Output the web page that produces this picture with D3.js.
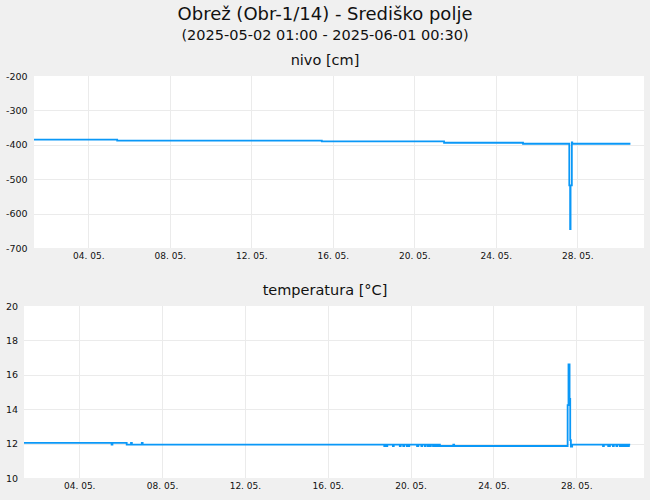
<!DOCTYPE html>
<html>
<head>
<meta charset="utf-8">
<script src="https://cdn.jsdelivr.net/npm/d3@7"></script>
<style>
    body { margin: 0; background: #f0f0f0; }
    svg { display: block; font-family: "DejaVu Sans", sans-serif; }
</style>
</head>
<body>
<svg id="chart" width="650" height="500"></svg>
<script>
const titleText = "Obrež (Obr-1/14) - Središko polje";
const subtitleText = "(2025-05-02 01:00 - 2025-06-01 00:30)";

// axis range of both panels (the data stops a bit before the right edge)
const timeDomain = ["2025-05-01T08:00", "2025-05-31T06:30"];
const xTickDates = ["2025-05-04", "2025-05-08", "2025-05-12", "2025-05-16", "2025-05-20", "2025-05-24", "2025-05-28"];

// nivo [cm]
const nivoLabel = "nivo [cm]";
const nivoTicks = [-200, -300, -400, -500, -600, -700];
const nivoTimes = [
    "2025-05-01T08:00", "2025-05-05T10:00", "2025-05-15T11:00", "2025-05-21T11:00",
    "2025-05-25T08:00", "2025-05-27T14:30", "2025-05-27T15:30", "2025-05-27T16:00",
    "2025-05-27T17:30", "2025-05-27T18:00", "2025-05-30T14:30"
];
const nivoValues = [-385, -388, -390, -394, -397, -518, -645, -518, -393, -397, -397];

// temperatura [°C]
const tempLabel = "temperatura [°C]";
const tempTicks = [10, 12, 14, 16, 18, 20];
const tempTimes = [
    "2025-05-01T08:00", "2025-05-05T13:30", "2025-05-05T14:30", "2025-05-06T07:00",
    "2025-05-06T12:00", "2025-05-06T13:00", "2025-05-07T00:30", "2025-05-07T01:30",
    "2025-05-18T17:30", "2025-05-18T18:30", "2025-05-18T20:00", "2025-05-18T21:00",
    "2025-05-19T03:30", "2025-05-19T04:30", "2025-05-19T11:30", "2025-05-19T12:30",
    "2025-05-19T15:30", "2025-05-19T16:30", "2025-05-19T19:30", "2025-05-19T20:30",
    "2025-05-19T21:30", "2025-05-19T22:30", "2025-05-20T07:30", "2025-05-20T09:00",
    "2025-05-20T12:30", "2025-05-20T13:30", "2025-05-20T16:30", "2025-05-20T17:30",
    "2025-05-20T20:00", "2025-05-20T21:00", "2025-05-20T22:30", "2025-05-20T23:30",
    "2025-05-21T02:00", "2025-05-21T03:30", "2025-05-21T05:00", "2025-05-21T06:00",
    "2025-05-21T07:30", "2025-05-21T08:30", "2025-05-21T10:00", "2025-05-22T01:30",
    "2025-05-22T02:30", "2025-05-27T14:00", "2025-05-27T15:00", "2025-05-27T16:15",
    "2025-05-27T17:00", "2025-05-27T17:45", "2025-05-27T19:15", "2025-05-29T07:00",
    "2025-05-29T08:00", "2025-05-29T13:00", "2025-05-29T15:00", "2025-05-29T18:30",
    "2025-05-29T19:30", "2025-05-29T22:30", "2025-05-29T23:30", "2025-05-30T02:30",
    "2025-05-30T03:30", "2025-05-30T05:00", "2025-05-30T06:30", "2025-05-30T08:30",
    "2025-05-30T10:00", "2025-05-30T12:00", "2025-05-30T13:00", "2025-05-30T14:30"
];
const tempValues = [
    12.04, 11.94, 12.04, 11.94, 12.04, 11.94, 12.04, 11.94,
    11.86, 11.94, 11.86, 11.94, 11.86, 11.94, 11.86, 11.94,
    11.86, 11.94, 11.86, 11.94, 11.86, 11.94, 11.86, 11.94,
    11.86, 11.94, 11.86, 11.94, 11.86, 11.94, 11.86, 11.94,
    11.86, 11.94, 11.86, 11.94, 11.86, 11.94, 11.86, 11.94,
    11.86, 14.24, 16.6, 14.6, 12.2, 11.82, 11.94, 11.86,
    11.94, 11.86, 11.94, 11.86, 11.94, 11.86, 11.94, 11.86,
    11.94, 11.86, 11.94, 11.86, 11.94, 11.86, 11.94, 11.94
];

const LINE_COLOR = "#0a98f7";
const GRID_COLOR = "#ebebeb";
const TEXT_COLOR = "#111";

const parseTime = d3.timeParse("%Y-%m-%dT%H:%M");
const parseDay = d3.timeParse("%Y-%m-%d");
const tickFormat = d3.timeFormat("%d. %m.");

const svg = d3.select("#chart");

svg.append("rect")
    .attr("width", 650)
    .attr("height", 500)
    .attr("fill", "#f0f0f0");

svg.append("text")
    .attr("x", 325)
    .attr("y", 20)
    .attr("text-anchor", "middle")
    .attr("font-size", 18)
    .attr("fill", TEXT_COLOR)
    .text(titleText);

svg.append("text")
    .attr("x", 325)
    .attr("y", 40)
    .attr("text-anchor", "middle")
    .attr("font-size", 14.5)
    .attr("fill", TEXT_COLOR)
    .text(subtitleText);

function drawPanel(panel) {
    const width = panel.right - panel.left;
    const height = panel.bottom - panel.top;

    const data = panel.times.map((t, i) => ({ date: parseTime(t), value: panel.values[i] }));

    const x = d3.scaleTime()
        .domain(timeDomain.map(parseTime))
        .range([0, width]);
    const y = d3.scaleLinear()
        .domain(d3.extent(panel.ticks))
        .range([height, 0]);

    svg.append("text")
        .attr("x", 325)
        .attr("y", panel.top - 11)
        .attr("text-anchor", "middle")
        .attr("font-size", 14.5)
        .attr("fill", TEXT_COLOR)
        .text(panel.label);

    const g = svg.append("g")
        .attr("transform", `translate(${panel.left},${panel.top})`);

    g.append("rect")
        .attr("width", width)
        .attr("height", height)
        .attr("fill", "#fff");

    const tickDates = xTickDates.map(parseDay);

    // grid
    g.append("g")
        .attr("stroke", GRID_COLOR)
        .attr("stroke-width", 1)
        .call(gg => gg.selectAll("line.v")
            .data(tickDates)
            .join("line")
            .attr("class", "v")
            .attr("x1", d => Math.round(x(d)) + 0.5)
            .attr("x2", d => Math.round(x(d)) + 0.5)
            .attr("y1", 0)
            .attr("y2", height))
        .call(gg => gg.selectAll("line.h")
            .data(panel.ticks.filter(d => y(d) > 1 && y(d) < height - 1))
            .join("line")
            .attr("class", "h")
            .attr("x1", 0)
            .attr("x2", width)
            .attr("y1", d => Math.round(y(d)) + 0.5)
            .attr("y2", d => Math.round(y(d)) + 0.5));

    // x axis labels
    const gx = g.append("g")
        .attr("transform", `translate(0,${height})`)
        .call(d3.axisBottom(x).tickValues(tickDates).tickFormat(tickFormat).tickSize(0).tickPadding(5));
    gx.select(".domain").remove();
    gx.selectAll("text")
        .attr("font-family", "DejaVu Sans")
        .attr("font-size", 9)
        .attr("fill", TEXT_COLOR);

    // y axis labels, left aligned at the page edge, plain hyphen minus
    const gy = g.append("g")
        .call(d3.axisLeft(y).tickValues(panel.ticks).tickFormat(d => String(d)).tickSize(0).tickPadding(0));
    gy.select(".domain").remove();
    gy.selectAll("text")
        .attr("x", 6 - panel.left)
        .attr("text-anchor", "start")
        .attr("font-family", "DejaVu Sans")
        .attr("font-size", 9.5)
        .attr("fill", TEXT_COLOR);

    g.append("path")
        .datum(data)
        .attr("fill", "none")
        .attr("stroke", LINE_COLOR)
        .attr("stroke-width", 1.8)
        .attr("d", d3.line()
            .curve(d3.curveStepAfter)
            .x(d => x(d.date))
            .y(d => y(d.value)));
}

drawPanel({
    label: nivoLabel,
    ticks: nivoTicks,
    times: nivoTimes,
    values: nivoValues,
    left: 34, right: 644, top: 76, bottom: 248
});

drawPanel({
    label: tempLabel,
    ticks: tempTicks,
    times: tempTimes,
    values: tempValues,
    left: 24, right: 644, top: 306, bottom: 478
});
</script>
</body>
</html>
